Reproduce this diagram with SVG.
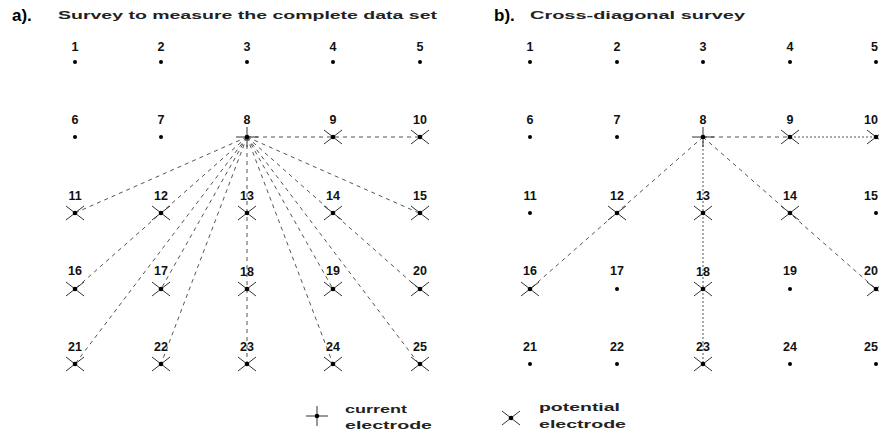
<svg xmlns="http://www.w3.org/2000/svg" xmlns:xlink="http://www.w3.org/1999/xlink" width="879" height="435" viewBox="0 0 879 435">
<style>
.lbl{font-family:"Liberation Sans",Arial,sans-serif;font-weight:bold;font-size:12.5px;fill:#111;text-anchor:middle}
.lblr{font-family:"Liberation Sans",Arial,sans-serif;font-weight:bold;font-size:12.5px;fill:#111;text-anchor:end}
.ttl{font-family:"Liberation Sans",Arial,sans-serif;font-weight:bold;font-size:17px;fill:#000}
.sub{font-family:"Liberation Sans",Arial,sans-serif;font-weight:bold;font-size:11px;fill:#222}
.leg{font-family:"Liberation Sans",Arial,sans-serif;font-weight:bold;font-size:11px;fill:#222}
.dash{stroke:#555;stroke-width:1;fill:none;stroke-dasharray:4 4}
.dot2{stroke:#555;stroke-width:1;fill:none;stroke-dasharray:2 2}
.sym{stroke:#333;stroke-width:1;fill:none}
</style>
<defs>
<g id="dot"><circle r="2" fill="#000"/></g>
<g id="pot"><line class="sym" x1="-9" y1="-7" x2="9" y2="7"/><line class="sym" x1="-9" y1="7" x2="9" y2="-7"/><circle r="2.3" fill="#000"/></g>
<g id="cur"><line class="sym" x1="-11" y1="0" x2="11" y2="0"/><line class="sym" x1="0" y1="-10" x2="0" y2="10"/><circle r="2.3" fill="#000"/></g>
</defs>

<g id="titles">
<text class="ttl" x="12" y="21">a).</text>
<text class="sub" x="58" y="19" textLength="379" lengthAdjust="spacingAndGlyphs">Survey to measure the complete data set</text>
<text class="ttl" x="494" y="21">b).</text>
<text class="sub" x="530" y="19" textLength="215" lengthAdjust="spacingAndGlyphs">Cross-diagonal survey</text>
</g>

<g id="connectors-a">
<line class="dash" x1="247" y1="137" x2="420" y2="137"/>
<line class="dash" x1="247" y1="137" x2="75" y2="213"/>
<line class="dash" x1="247" y1="137" x2="419" y2="213"/>
<line class="dash" x1="247" y1="137" x2="75" y2="289"/>
<line class="dash" x1="247" y1="137" x2="419" y2="289"/>
<line class="dash" x1="247" y1="137" x2="161" y2="289"/>
<line class="dash" x1="247" y1="137" x2="333" y2="289"/>
<line class="dash" x1="247" y1="137" x2="75" y2="364"/>
<line class="dash" x1="247" y1="137" x2="161" y2="364"/>
<line class="dash" x1="247" y1="137" x2="247" y2="364"/>
<line class="dash" x1="247" y1="137" x2="333" y2="364"/>
<line class="dash" x1="247" y1="137" x2="419" y2="364"/>
</g>

<g id="connectors-b">
<line class="dash" x1="703" y1="137" x2="790" y2="137"/>
<line class="dot2" x1="790" y1="137" x2="876" y2="137"/>
<line class="dash" x1="703" y1="137" x2="530" y2="289"/>
<line class="dot2" x1="703" y1="137" x2="703" y2="364"/>
<line class="dash" x1="703" y1="137" x2="876" y2="289"/>
</g>

<!-- Panel a nodes -->
<g id="a1"><text class="lbl" x="75" y="51">1</text><use xlink:href="#dot" x="75" y="62"/></g>
<g id="a2"><text class="lbl" x="161" y="51">2</text><use xlink:href="#dot" x="161" y="62"/></g>
<g id="a3"><text class="lbl" x="247" y="51">3</text><use xlink:href="#dot" x="247" y="62"/></g>
<g id="a4"><text class="lbl" x="333" y="51">4</text><use xlink:href="#dot" x="333" y="62"/></g>
<g id="a5"><text class="lbl" x="420" y="51">5</text><use xlink:href="#dot" x="420" y="62"/></g>
<g id="a6"><text class="lbl" x="75" y="124">6</text><use xlink:href="#dot" x="75" y="137"/></g>
<g id="a7"><text class="lbl" x="161" y="124">7</text><use xlink:href="#dot" x="161" y="137"/></g>
<g id="a8"><text class="lbl" x="247" y="124">8</text><use xlink:href="#cur" x="247" y="137"/></g>
<g id="a9"><text class="lbl" x="333" y="124">9</text><use xlink:href="#pot" x="333" y="137"/></g>
<g id="a10"><text class="lbl" x="420" y="124">10</text><use xlink:href="#pot" x="420" y="137"/></g>
<g id="a11"><text class="lbl" x="75" y="200">11</text><use xlink:href="#pot" x="75" y="213"/></g>
<g id="a12"><text class="lbl" x="161" y="200">12</text><use xlink:href="#pot" x="161" y="213"/></g>
<g id="a13"><text class="lbl" x="247" y="200">13</text><use xlink:href="#pot" x="247" y="213"/></g>
<g id="a14"><text class="lbl" x="333" y="200">14</text><use xlink:href="#pot" x="333" y="213"/></g>
<g id="a15"><text class="lbl" x="420" y="200">15</text><use xlink:href="#pot" x="420" y="213"/></g>
<g id="a16"><text class="lbl" x="75" y="275">16</text><use xlink:href="#pot" x="75" y="289"/></g>
<g id="a17"><text class="lbl" x="161" y="275">17</text><use xlink:href="#pot" x="161" y="289"/></g>
<g id="a18"><text class="lbl" x="247" y="276">18</text><use xlink:href="#pot" x="247" y="289"/></g>
<g id="a19"><text class="lbl" x="333" y="275">19</text><use xlink:href="#pot" x="333" y="289"/></g>
<g id="a20"><text class="lbl" x="420" y="275">20</text><use xlink:href="#pot" x="420" y="289"/></g>
<g id="a21"><text class="lbl" x="75" y="351">21</text><use xlink:href="#pot" x="75" y="364"/></g>
<g id="a22"><text class="lbl" x="161" y="351">22</text><use xlink:href="#pot" x="161" y="364"/></g>
<g id="a23"><text class="lbl" x="247" y="351">23</text><use xlink:href="#pot" x="247" y="364"/></g>
<g id="a24"><text class="lbl" x="333" y="351">24</text><use xlink:href="#pot" x="333" y="364"/></g>
<g id="a25"><text class="lbl" x="420" y="351">25</text><use xlink:href="#pot" x="420" y="364"/></g>

<!-- Panel b nodes -->
<g id="b1"><text class="lbl" x="530" y="51">1</text><use xlink:href="#dot" x="530" y="62"/></g>
<g id="b2"><text class="lbl" x="617" y="51">2</text><use xlink:href="#dot" x="617" y="62"/></g>
<g id="b3"><text class="lbl" x="703" y="51">3</text><use xlink:href="#dot" x="703" y="62"/></g>
<g id="b4"><text class="lbl" x="790" y="51">4</text><use xlink:href="#dot" x="790" y="62"/></g>
<g id="b5"><text class="lblr" x="878" y="51">5</text><use xlink:href="#dot" x="876" y="62"/></g>
<g id="b6"><text class="lbl" x="530" y="124">6</text><use xlink:href="#dot" x="530" y="137"/></g>
<g id="b7"><text class="lbl" x="617" y="124">7</text><use xlink:href="#dot" x="617" y="137"/></g>
<g id="b8"><text class="lbl" x="703" y="124">8</text><use xlink:href="#cur" x="703" y="137"/></g>
<g id="b9"><text class="lbl" x="790" y="124">9</text><use xlink:href="#pot" x="790" y="137"/></g>
<g id="b10"><text class="lblr" x="878" y="124">10</text><use xlink:href="#pot" x="876" y="137"/></g>
<g id="b11"><text class="lbl" x="530" y="200">11</text><use xlink:href="#dot" x="530" y="213"/></g>
<g id="b12"><text class="lbl" x="617" y="200">12</text><use xlink:href="#pot" x="617" y="213"/></g>
<g id="b13"><text class="lbl" x="703" y="200">13</text><use xlink:href="#pot" x="703" y="213"/></g>
<g id="b14"><text class="lbl" x="790" y="200">14</text><use xlink:href="#pot" x="790" y="213"/></g>
<g id="b15"><text class="lblr" x="878" y="200">15</text><use xlink:href="#dot" x="876" y="213"/></g>
<g id="b16"><text class="lbl" x="530" y="275">16</text><use xlink:href="#pot" x="530" y="289"/></g>
<g id="b17"><text class="lbl" x="617" y="275">17</text><use xlink:href="#dot" x="617" y="289"/></g>
<g id="b18"><text class="lbl" x="703" y="276">18</text><use xlink:href="#pot" x="703" y="289"/></g>
<g id="b19"><text class="lbl" x="790" y="275">19</text><use xlink:href="#dot" x="790" y="289"/></g>
<g id="b20"><text class="lblr" x="878" y="275">20</text><use xlink:href="#pot" x="876" y="289"/></g>
<g id="b21"><text class="lbl" x="530" y="351">21</text><use xlink:href="#dot" x="530" y="364"/></g>
<g id="b22"><text class="lbl" x="617" y="351">22</text><use xlink:href="#dot" x="617" y="364"/></g>
<g id="b23"><text class="lbl" x="703" y="351">23</text><use xlink:href="#pot" x="703" y="364"/></g>
<g id="b24"><text class="lbl" x="790" y="351">24</text><use xlink:href="#dot" x="790" y="364"/></g>
<g id="b25"><text class="lblr" x="878" y="351">25</text><use xlink:href="#dot" x="876" y="364"/></g>

<!-- Legend -->
<g id="legend-current">
<use xlink:href="#cur" x="317" y="416"/>
<text class="leg" x="345" y="413" textLength="62" lengthAdjust="spacingAndGlyphs">current</text>
<text class="leg" x="345" y="429" textLength="87" lengthAdjust="spacingAndGlyphs">electrode</text>
</g>
<g id="legend-potential">
<use xlink:href="#pot" x="511" y="418"/>
<text class="leg" x="539" y="411" textLength="81" lengthAdjust="spacingAndGlyphs">potential</text>
<text class="leg" x="539" y="428" textLength="87" lengthAdjust="spacingAndGlyphs">electrode</text>
</g>
</svg>
